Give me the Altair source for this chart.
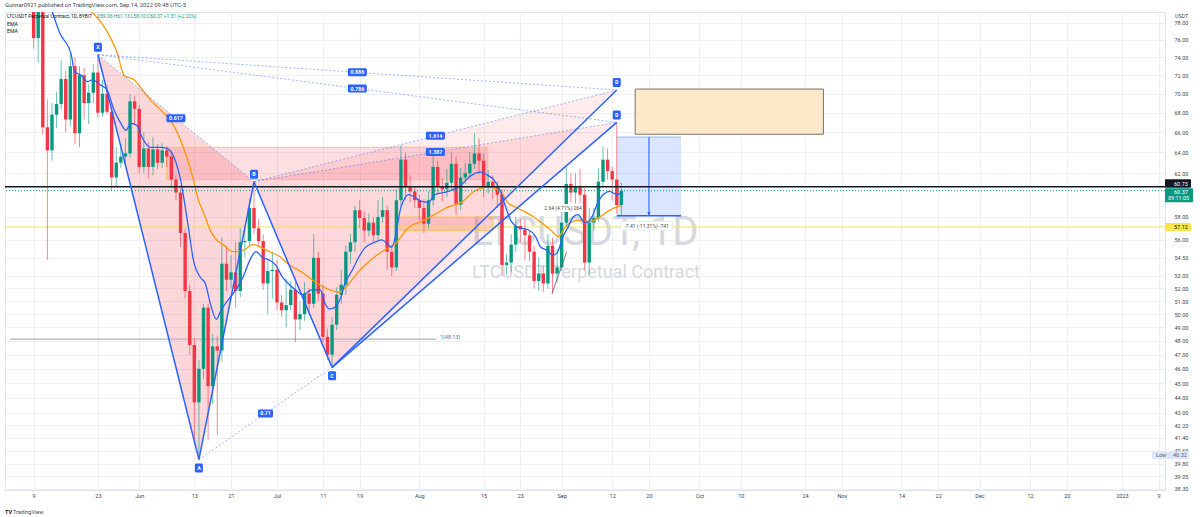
import math
import altair as alt
import pandas as pd

# ---------------- data (day index 0 = 2022-05-09, daily candles) ----------------
day = list(range(129))
open_ = [86.0, 76.2, 80.5, 66.5, 64.2, 67.8, 68.9, 71.6, 67.3, 73.0,
         65.9, 72.0, 69.0, 70.1, 72.3, 68.0, 70.0, 68.1, 61.6, 63.0,
         63.6, 63.9, 69.2, 68.4, 62.6, 64.4, 62.6, 64.3, 63.0, 64.2,
         63.6, 61.4, 60.2, 56.6, 51.8, 47.7, 43.7, 46.0, 50.5, 44.8,
         47.6, 47.3, 54.0, 52.7, 53.3, 51.8, 55.8, 55.9, 58.8, 57.0,
         55.9, 52.4, 53.4, 53.5, 50.9, 50.3, 50.7, 51.9, 49.6, 50.0,
         51.6, 50.8, 54.5, 51.6, 48.3, 47.0, 49.2, 51.5, 52.3, 55.0,
         55.8, 58.6, 57.9, 56.8, 57.5, 56.4, 58.0, 58.6, 55.0, 53.7,
         59.5, 63.3, 60.7, 60.3, 59.5, 58.8, 57.4, 59.5, 62.6, 60.8,
         60.5, 61.1, 62.9, 59.1, 61.6, 62.0, 62.9, 63.9, 63.2, 60.7,
         61.2, 60.7, 60.0, 53.9, 54.1, 55.6, 57.2, 56.9, 56.4, 55.0,
         52.6, 53.2, 52.4, 55.5, 53.2, 53.7, 57.5, 61.0, 60.2, 60.7,
         60.0, 54.1, 57.5, 57.9, 61.2, 63.3, 62.2, 61.4, 59.06]
high = [87.5, 82.0, 81.5, 69.4, 69.0, 70.2, 73.7, 72.5, 74.5, 74.0,
        73.0, 72.8, 71.0, 73.2, 74.3, 71.5, 71.0, 68.5, 64.5, 64.8,
        65.4, 69.9, 69.8, 68.8, 66.0, 65.0, 65.5, 64.8, 64.9, 64.6,
        64.2, 61.8, 60.6, 57.0, 52.3, 48.2, 46.6, 50.8, 50.8, 48.5,
        48.4, 56.2, 55.5, 54.7, 55.8, 57.0, 57.0, 59.6, 61.2, 57.8,
        56.5, 54.3, 55.0, 54.3, 51.5, 52.8, 52.6, 52.5, 51.0, 52.5,
        52.0, 56.5, 55.0, 52.3, 48.9, 49.8, 52.1, 53.5, 55.5, 56.5,
        59.0, 59.5, 58.5, 58.3, 58.0, 59.5, 59.8, 59.0, 55.6, 60.5,
        64.7, 64.0, 61.8, 60.8, 60.0, 59.6, 60.3, 64.0, 63.2, 61.5,
        62.4, 64.0, 63.6, 62.5, 63.0, 64.0, 65.9, 65.4, 63.9, 62.3,
        61.8, 61.2, 60.5, 54.8, 56.5, 58.0, 57.8, 57.8, 56.8, 55.5,
        54.5, 53.8, 56.5, 56.2, 55.2, 58.5, 62.6, 62.0, 62.0, 62.4,
        60.6, 58.8, 58.8, 62.5, 64.6, 64.4, 62.6, 67.0, 61.13]
low = [75.0, 73.4, 65.8, 54.3, 63.2, 66.4, 68.3, 66.0, 66.6, 64.8,
       64.5, 67.3, 66.8, 69.0, 67.5, 67.6, 67.8, 60.4, 60.8, 62.5,
       62.8, 63.5, 66.8, 62.0, 62.0, 61.5, 61.8, 62.4, 62.5, 62.6,
       60.6, 59.5, 55.4, 51.2, 47.0, 41.0, 40.32, 45.3, 41.3, 43.6,
       41.6, 46.5, 51.8, 52.0, 50.5, 51.3, 54.5, 55.5, 56.5, 55.5,
       51.9, 50.0, 51.2, 50.3, 49.8, 49.0, 50.3, 47.9, 48.8, 49.5,
       50.0, 50.5, 51.0, 47.9, 46.6, 46.1, 48.8, 50.8, 51.5, 54.0,
       55.0, 57.0, 55.8, 56.3, 55.8, 56.0, 57.5, 53.5, 53.0, 53.4,
       59.0, 59.5, 59.3, 58.8, 57.7, 56.6, 57.0, 59.0, 60.0, 59.4,
       59.8, 60.5, 58.2, 58.6, 61.0, 61.5, 62.4, 62.0, 59.8, 60.1,
       59.6, 58.8, 53.0, 53.1, 53.3, 55.0, 55.8, 54.3, 54.2, 52.0,
       51.8, 51.7, 52.0, 51.6, 52.5, 53.4, 57.2, 59.3, 59.2, 59.2,
       53.5, 53.1, 56.8, 57.6, 60.8, 61.4, 59.5, 58.3, 58.10]
close = [76.2, 80.5, 66.5, 64.2, 67.8, 68.9, 71.6, 67.3, 73.0, 65.9,
         72.0, 69.0, 70.1, 72.3, 68.0, 70.0, 68.1, 61.6, 63.0, 63.6,
         63.9, 69.2, 68.4, 62.6, 64.4, 62.6, 64.3, 63.0, 64.2, 63.6,
         61.4, 60.2, 56.6, 51.8, 47.7, 43.7, 46.0, 50.5, 44.8, 47.6,
         47.3, 54.0, 52.7, 53.3, 51.8, 55.8, 55.9, 58.8, 57.0, 55.9,
         52.4, 53.4, 53.5, 50.9, 50.3, 50.7, 51.9, 49.6, 50.0, 51.6,
         50.8, 54.5, 51.6, 48.3, 47.0, 49.2, 51.5, 52.3, 55.0, 55.8,
         58.6, 57.9, 56.8, 57.5, 56.4, 58.0, 58.6, 55.0, 53.7, 59.5,
         63.3, 60.7, 60.3, 59.5, 58.8, 57.4, 59.5, 62.6, 60.8, 60.5,
         61.1, 62.9, 59.1, 61.6, 62.0, 62.9, 63.9, 63.2, 60.7, 61.2,
         60.7, 60.0, 53.9, 54.1, 55.6, 57.2, 56.9, 56.4, 55.0, 52.6,
         53.2, 52.4, 55.5, 53.2, 53.7, 57.5, 61.0, 60.2, 60.7, 60.0,
         54.1, 57.5, 57.9, 61.2, 63.3, 62.2, 61.4, 59.06, 60.37]

# EMA lines (day index, price)
ema_fast_day = [3.9, 5.7, 8.2, 8.9, 10.4, 11.7, 12.8, 14.7, 16.0, 17.5, 19.0, 20.1, 21.2, 22.5,
                23.6, 25.5, 27.7, 29.0, 30.5, 32.0, 33.7, 34.8, 36.3, 37.4, 38.5, 39.8, 40.8,
                42.8, 44.1, 45.6, 47.1, 48.4, 49.9, 51.4, 52.7, 54.2, 55.7, 57.0, 58.5, 60.7,
                62.4, 63.5, 64.4, 65.5, 66.8, 67.8, 69.3, 70.9, 72.1, 74.3, 75.8, 78.0, 80.1,
                81.6, 84.5, 86.0, 87.3, 90.3, 93.1, 95.3, 97.4, 98.9, 100.2, 101.7, 102.8,
                103.9, 105.4, 107.6, 109.3, 110.4, 111.9, 113.0, 114.0, 115.3, 116.4, 117.5,
                118.6, 119.5, 120.5, 121.6, 122.9, 124.0, 125.5, 127.0, 128.0]
ema_fast_val = [79.6, 76.8, 74.3, 72.4, 72.0, 71.3, 71.5, 70.9, 70.4, 68.3, 66.9, 66.2, 66.9, 66.7,
                65.5, 64.5, 64.5, 64.4, 63.6, 61.4, 57.1, 54.3, 52.9, 52.4, 50.8, 49.6, 50.3,
                51.3, 51.9, 52.9, 54.3, 55.0, 54.5, 54.3, 53.9, 52.9, 52.3, 51.9, 51.5, 51.9,
                51.9, 50.8, 50.4, 50.5, 51.2, 52.4, 53.4, 54.6, 55.3, 55.8, 56.0, 55.4, 59.0,
                60.0, 59.4, 59.3, 60.0, 60.3, 60.9, 61.8, 62.1, 61.8, 61.4, 60.3, 58.9,
                57.7, 57.1, 56.9, 56.3, 55.4, 55.1, 54.7, 54.9, 56.3, 57.1, 58.0,
                58.2, 57.7, 57.5, 58.0, 59.3, 60.0, 60.3, 60.0, 60.2]
ema_slow_day = [12.1, 15.4, 18.2, 19.7, 21.9, 23.4, 25.5, 28.3, 30.5, 32.0, 33.3, 34.8, 35.9,
                37.0, 38.5, 39.8, 41.3, 43.4, 45.6, 47.8, 49.3, 51.4, 53.6, 55.7, 58.5, 61.4,
                64.4, 66.5, 68.7, 70.9, 73.4, 75.8, 78.6, 81.7, 84.5, 87.3, 90.3, 93.1, 95.9,
                98.9, 101.7, 103.2, 105.4, 108.9, 112.5, 114.3, 115.8, 118.4, 121.2, 123.3,
                125.5, 127.0, 128.0]
ema_slow_val = [79.6, 77.5, 74.5, 72.0, 71.5, 70.6, 69.3, 68.0, 66.7, 65.2, 63.6, 61.4, 59.5,
                58.4, 56.8, 56.0, 55.6, 55.0, 55.1, 55.6, 55.4, 55.0, 54.6, 53.9, 53.3, 52.5,
                51.9, 51.7, 52.4, 53.4, 54.3, 55.0, 55.6, 57.1, 57.6, 58.2, 58.9, 59.3, 60.3,
                60.7, 60.3, 59.3, 58.8, 58.0, 56.9, 56.3, 57.1, 57.7, 57.6, 58.0,
                58.6, 58.9, 59.0]

# time axis
tick_day = [0, 14, 23, 35, 43, 53, 63, 71, 84, 98, 106, 115, 126, 134, 145, 154, 168, 176,
            189, 197, 206, 217, 225, 237, 245]
tick_label = ['9', '23', 'Jun', '13', '21', 'Jul', '11', '19', 'Aug', '15', '23', 'Sep', '12',
              '20', 'Oct', '10', '24', 'Nov', '14', '22', 'Dec', '12', '20', '2023', '9']
price_ticks = [38.30, 39.05, 39.80, 40.60, 41.40, 42.20, 43, 44, 45, 46, 47, 48, 49, 50, 51,
               52, 53, 54.5, 56, 58, 62, 64, 66, 68, 70, 72, 74, 76, 78]

# harmonic pattern points
pt_name = ['X', 'A', 'B', 'C', 'D', 'D']
pt_day = [14, 36, 48, 65, 127, 127]
pt_price = [74.3, 40.05, 61.2, 46.1, 70.4, 67.0]
ratio_label = ['0.617', '0.71', '1.614', '1.387', '0.886', '0.786']
ratio_from = [0, 1, 2, 2, 0, 0]
ratio_to = [2, 3, 4, 5, 4, 5]

# zones
zone_day0 = [29.0, 79.7]
zone_day1 = [98.9, 100.0]
zone_lo = [61.4, 56.8]
zone_hi = [64.5, 58.0]
target_day = [131.0, 172.0]
target_price = [65.8, 70.5]
measure_day = [127.0, 141.0, 134.0]
measure_price = [58.11, 65.52]
small_range_day = [112.9, 116.1]
small_range_price = [51.6, 55.0]

level_black = 60.73
level_last = 60.37
level_yellow = 57.12
level_gray = 48.13
level_gray_end = 87.7
low_value = 40.32

# ---------------- scales / axes / helpers ----------------
X_DOM = [-5.14, 245.3]
Y_DOM = [38.23, 79.3]
xsc = alt.Scale(domain=X_DOM, nice=False, zero=False)
ysc = alt.Scale(type='log', domain=Y_DOM, nice=False)
FONT = 'Roboto'


def lookup_expr(keys, labels):
    expr = "''"
    for k, l in reversed(list(zip(keys, labels))):
        expr = f"datum.value == {k} ? '{l}' : ({expr})"
    return expr


xaxis = alt.Axis(values=tick_day, labelExpr=lookup_expr(tick_day, tick_label), title=None, grid=True,
                 gridColor='#eef0f5', gridWidth=1, domain=False, ticks=False, labelFontSize=5.5,
                 labelFont=FONT, labelColor='#434651', labelPadding=3, labelBaseline='top',
                 labelFlush=False, labelOverlap=False)
yaxis = alt.Axis(values=price_ticks, format='.2f', orient='right', title=None, grid=True,
                 gridColor='#eef0f5', gridWidth=1, domain=False, ticks=False, labelFontSize=5.5,
                 labelFont=FONT, labelColor='#434651', labelPadding=9, labelAlign='left',
                 labelBaseline='middle', labelFlush=False, labelOverlap=False)


def X(f):
    return alt.X(f, type='quantitative', scale=xsc, axis=xaxis)


def Y(f):
    return alt.Y(f, type='quantitative', scale=ysc, axis=yaxis)


def txt(s, x, y, size=5.5, color='#131722', align='left', weight='normal', opacity=1):
    return alt.Chart(pd.DataFrame({'t': [s]})).mark_text(
        align=align, baseline='middle', fontSize=size, color=color, font=FONT,
        fontWeight=weight, opacity=opacity
    ).encode(x=alt.value(x), y=alt.value(y), text='t:N')


def tag(df, w, h, dy, fill='#2962ff', tcolor='white', stroke=None, fs=5.3, weight='bold'):
    kw = dict(fill=fill, cornerRadius=1.5, xOffset=-w / 2, x2Offset=w / 2,
              yOffset=dy - h / 2, y2Offset=dy + h / 2)
    if stroke:
        kw.update(stroke=stroke, strokeWidth=0.8)
    r = alt.Chart(df).mark_rect(**kw).encode(x=X('d'), x2=alt.X2('d'), y=Y('p'), y2=alt.Y2('p'))
    t = alt.Chart(df).mark_text(color=tcolor, fontSize=fs, font=FONT, fontWeight=weight,
                                baseline='middle', yOffset=dy).encode(x=X('d'), y=Y('p'), text='t:N')
    return [r, t]


def tri_rows(P, Q, R):
    (d1, p1), (d2, p2), (d3, p3) = sorted([P, Q, R])
    t = (d2 - d1) / (d3 - d1)
    pe = math.exp(math.log(p1) + t * (math.log(p3) - math.log(p1)))
    return pd.DataFrame({'d': [d1, d2, d3], 'a': [p1, p2, p3], 'b': [p1, pe, p3]})


cdf = pd.DataFrame({'d': day, 'o': open_, 'h': high, 'l': low, 'c': close})
cdf['dir'] = ['up' if c >= o else 'down' for o, c in zip(open_, close)]

layers = []

# watermark
layers.append(txt('LTCUSDT, 1D', 580, 221, size=40, color='#d6d8de', align='center'))
layers.append(txt('LTCUSDT Perpetual Contract', 581, 261, size=18, color='#d6d8de', align='center'))

# pattern triangles
P = list(zip(pt_day, pt_price))
for (a, b, c), op in [((0, 1, 2), 0.2), ((2, 3, 4), 0.1), ((2, 3, 5), 0.11)]:
    layers.append(alt.Chart(tri_rows(P[a], P[b], P[c])).mark_area(
        color='#f23645', opacity=op, clip=True).encode(x=X('d'), y=Y('a'), y2=alt.Y2('b')))

# zones
zdf = pd.DataFrame({'d1': zone_day0, 'd2': zone_day1, 'lo': zone_lo, 'hi': zone_hi})
layers.append(alt.Chart(zdf).mark_rect(fill='#f23645', fillOpacity=0.16, stroke='#f7c46c',
                                       strokeWidth=1, clip=True).encode(
    x=X('d1'), x2=alt.X2('d2'), y=Y('lo'), y2=alt.Y2('hi')))

# target box
tdf = pd.DataFrame({'d1': [target_day[0]], 'd2': [target_day[1]], 'lo': [target_price[0]], 'hi': [target_price[1]]})
layers.append(alt.Chart(tdf).mark_rect(fill='#fde8c9', stroke='#7d735f', strokeWidth=1, clip=True).encode(
    x=X('d1'), x2=alt.X2('d2'), y=Y('lo'), y2=alt.Y2('hi')))

# measure box
mdf = pd.DataFrame({'d1': [measure_day[0]], 'd2': [measure_day[1]], 'lo': [measure_price[0]],
                    'hi': [measure_price[1]], 'm': [measure_day[2]]})
layers.append(alt.Chart(mdf).mark_rect(fill='#2962ff', fillOpacity=0.17, clip=True).encode(
    x=X('d1'), x2=alt.X2('d2'), y=Y('lo'), y2=alt.Y2('hi')))
layers.append(alt.Chart(mdf).mark_rule(color='#2962ff', strokeWidth=1.5).encode(
    x=X('d1'), x2=alt.X2('d2'), y=Y('lo')))
layers.append(alt.Chart(mdf).mark_rule(color='#9db6ff', strokeWidth=1).encode(
    x=X('d1'), x2=alt.X2('d2'), y=Y('hi')))
layers.append(alt.Chart(mdf).mark_rule(color='#2962ff', strokeWidth=1).encode(
    x=X('m'), y=Y('hi'), y2=alt.Y2('lo')))
layers.append(alt.Chart(mdf).mark_point(shape='triangle-down', filled=True, color='#2962ff',
                                        size=12, opacity=1, yOffset=-2).encode(x=X('m'), y=Y('lo')))

# horizontal levels (under candles)
layers.append(alt.Chart(pd.DataFrame({'p': [level_yellow]})).mark_rule(
    color='#f3e25a', strokeWidth=1).encode(y=Y('p')))
gdf = pd.DataFrame({'p': [level_gray], 'd1': [X_DOM[0]], 'd2': [level_gray_end]})
layers.append(alt.Chart(gdf).mark_rule(color='#b2b5be', strokeWidth=1.2).encode(
    x=X('d1'), x2=alt.X2('d2'), y=Y('p')))

# candles
col = alt.Color('dir:N', scale=alt.Scale(domain=['up', 'down'], range=['#089981', '#f23645']), legend=None)
layers.append(alt.Chart(cdf).mark_rule(strokeWidth=1, opacity=0.6, clip=True).encode(
    x=X('d'), y=Y('l'), y2=alt.Y2('h'), color=col))
layers.append(alt.Chart(cdf).mark_bar(size=3.4, clip=True).encode(
    x=X('d'), y=Y('o'), y2=alt.Y2('c'), color=col))

# EMAs
fdf = pd.DataFrame({'d': ema_fast_day, 'p': ema_fast_val})
sdf = pd.DataFrame({'d': ema_slow_day, 'p': ema_slow_val})
layers.append(alt.Chart(sdf).mark_line(color='#ff9800', strokeWidth=1.3, interpolate='monotone',
                                       clip=True).encode(x=X('d'), y=Y('p'), order='d:Q'))
layers.append(alt.Chart(fdf).mark_line(color='#2962ff', strokeWidth=1.3, interpolate='monotone',
                                       clip=True).encode(x=X('d'), y=Y('p'), order='d:Q'))

# price lines over candles
layers.append(alt.Chart(pd.DataFrame({'p': [level_last]})).mark_rule(
    color='#089981', strokeWidth=1, strokeDash=[1, 2]).encode(y=Y('p')))
layers.append(alt.Chart(pd.DataFrame({'p': [level_black]})).mark_rule(
    color='#131722', strokeWidth=1.4).encode(y=Y('p')))

# dotted ratio lines
rrows = []
for lab, i, j in zip(ratio_label, ratio_from, ratio_to):
    rrows.append({'d': pt_day[i], 'p': pt_price[i], 'd2': pt_day[j], 'p2': pt_price[j], 't': lab,
                  'md': (pt_day[i] + pt_day[j]) / 2, 'mp': math.sqrt(pt_price[i] * pt_price[j])})
rdf = pd.DataFrame(rrows)
layers.append(alt.Chart(rdf).mark_rule(color='#2962ff', strokeWidth=1, opacity=0.45,
                                       strokeDash=[2, 2]).encode(
    x=X('d'), x2=alt.X2('d2'), y=Y('p'), y2=alt.Y2('p2')))

# solid pattern legs
legs = [(0, 1), (1, 2), (2, 3), (3, 4), (3, 5)]
ldf = pd.DataFrame([{'d': pt_day[i], 'p': pt_price[i], 'd2': pt_day[j], 'p2': pt_price[j]} for i, j in legs])
layers.append(alt.Chart(ldf).mark_rule(color='#2962ff', strokeWidth=1.5).encode(
    x=X('d'), x2=alt.X2('d2'), y=Y('p'), y2=alt.Y2('p2')))

# small range line + its label
srdf = pd.DataFrame({'d': [small_range_day[0]], 'p': [small_range_price[0]],
                     'd2': [small_range_day[1]], 'p2': [small_range_price[1]]})
layers.append(alt.Chart(srdf).mark_rule(color='#5d606b', strokeWidth=0.8).encode(
    x=X('d'), x2=alt.X2('d2'), y=Y('p'), y2=alt.Y2('p2')))
layers += tag(pd.DataFrame({'d': [115.3], 'p': [58.8], 't': ['2.64 (4.71%) 264']}), 40, 8, 0,
              fill='white', tcolor='#434651', fs=5, weight='normal')
# measure label
layers += tag(pd.DataFrame({'d': [measure_day[2] - 0.5], 'p': [measure_price[0]], 't': ['-7.41 (-11.31%) -741']}),
              52, 9, 10, fill='white', tcolor='#434651', stroke='#e0e3eb', fs=5, weight='normal')
# 1(48.13) label
layers.append(alt.Chart(gdf.assign(t=['1(48.13)'])).mark_text(
    align='left', baseline='middle', fontSize=5.3, font=FONT, color='#6a6d78', dx=4, dy=-2).encode(
    x=X('d2'), y=Y('p'), text='t:N'))

# ratio tags
for n, w in [(5, 19), (4, 15)]:
    sub = rdf[rdf['t'].str.len() == n][['md', 'mp', 't']].rename(columns={'md': 'd', 'mp': 'p'})
    layers += tag(sub, w, 8, 0)
# point tags
pdf = pd.DataFrame({'d': pt_day, 'p': pt_price, 't': pt_name})
layers += tag(pdf[pdf['t'].isin(['X', 'B', 'D'])], 8, 9, -7.5)
layers += tag(pdf[pdf['t'].isin(['A', 'C'])], 8, 9, 8.5)


# price-axis boxes
def axbox(p, x1, x2, fill, dy1, dy2):
    return alt.Chart(pd.DataFrame({'p': [p]})).mark_rect(
        fill=fill, cornerRadius=1, yOffset=dy1, y2Offset=dy2).encode(
        x=alt.value(x1), x2=alt.value(x2), y=Y('p'), y2=alt.Y2('p'))


def axtext(p, s, x, color, dy, size=5.5, align='left'):
    return alt.Chart(pd.DataFrame({'p': [p], 't': [s]})).mark_text(
        align=align, baseline='middle', fontSize=size, font=FONT, color=color, dy=dy).encode(
        x=alt.value(x), y=Y('p'), text='t:N')


layers.append(axbox(level_black, 1160, 1186, '#131722', -7.5, 1))
layers.append(axtext(level_black, '60.73', 1169, 'white', -3))
layers.append(axbox(level_last, 1160, 1188, '#089981', -2.5, 11.5))
layers.append(axtext(level_last, '60.37', 1169, 'white', 1.2))
layers.append(axtext(level_last, '09:11:05', 1163, 'white', 7.8))
layers.append(axbox(level_yellow, 1160, 1186, '#f9e64b', -4, 4))
layers.append(axtext(level_yellow, '57.12', 1169, '#131722', 0))
layers.append(axbox(low_value, 1147, 1184, '#dde6fb', -4, 4))
layers.append(axtext(low_value, 'Low', 1151, '#5d606b', 0))
layers.append(axtext(low_value, '40.32', 1168, '#5d606b', 0))

# header / footer text
layers.append(txt('Gunnar0921 published on TradingView.com, Sep 14, 2022 09:48 UTC-5', 0, -7, size=5.8,
                  color='#434651'))
layers.append(txt('LTCUSDT Perpetual Contract, 1D, BYBIT', 2, 5, size=4.9))
layers.append(txt('O59.06 H61.13 L58.10 C60.37 +1.31 (+2.22%)', 92, 5, size=4.9, color='#089981'))
layers.append(txt('EMA', 2, 12, size=5.2))
layers.append(txt('EMA', 2, 19, size=5.2))
layers.append(txt('USDT', 1170, 4, size=5.3, color='#434651'))
layers.append(txt('TV', 0, 500, size=5.5, weight='bold'))
layers.append(txt('TradingView', 8, 500, size=5.5, color='#434651'))

chart = alt.layer(*layers).properties(
    width=1160, height=478,
    autosize=alt.AutoSizeParams(type='none'),
    padding={'left': 5, 'top': 12, 'right': 35, 'bottom': 27},
    background='white',
).configure_view(stroke='#e0e3eb', strokeWidth=1)

chart.save('out.html', embed_options={'renderer': 'svg', 'actions': False})
